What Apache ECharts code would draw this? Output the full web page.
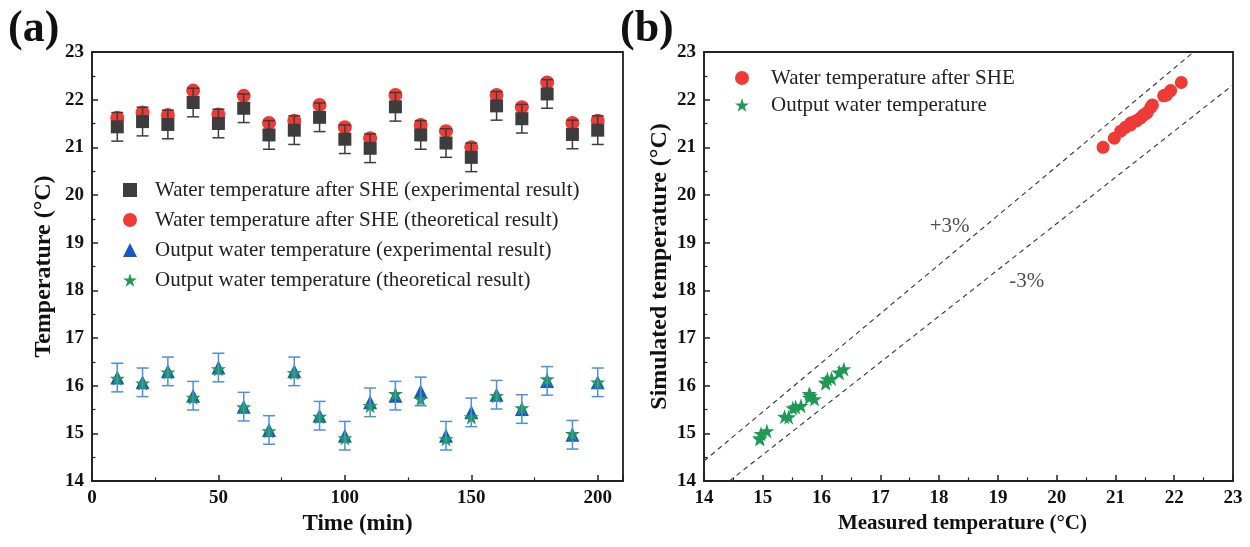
<!DOCTYPE html>
<html>
<head>
<meta charset="utf-8">
<script src="https://cdn.jsdelivr.net/npm/echarts@6/dist/echarts.min.js"></script>
<style>html,body{margin:0;padding:0;background:#fff}#c{width:1250px;height:547px}</style>
</head>
<body>
<div id="c"></div>
<script>
// ---- data ----
const times = [10,20,30,40,50,60,70,80,90,100,110,120,130,140,150,160,170,180,190,200];
const sheExp  = [21.43,21.54,21.48,21.94,21.50,21.82,21.26,21.36,21.63,21.17,20.98,21.85,21.26,21.09,20.79,21.87,21.60,22.12,21.27,21.36];
const sheTheo = [21.62,21.73,21.68,22.19,21.69,22.08,21.51,21.56,21.89,21.42,21.19,22.10,21.47,21.34,21.00,22.10,21.84,22.36,21.51,21.56];
const outExp  = [16.17,16.07,16.30,15.79,16.38,15.56,15.07,16.30,15.37,14.95,15.65,15.79,15.88,14.95,15.44,15.81,15.51,16.10,14.97,16.07];
const outTheo = [16.15,16.05,16.28,15.75,16.35,15.55,15.05,16.27,15.35,14.90,15.58,15.83,15.72,14.88,15.34,15.79,15.53,16.14,14.99,16.07];
const sheErr = 0.3;
const outErr = 0.3;
const refRatios = [1.03, 0.97];
const refLabels = ['+3%', '-3%'];
const refLabelPos = [[18.18, 19.34], [19.49, 18.19]];

const names = {
  a1: 'Water temperature after SHE (experimental result)',
  a2: 'Water temperature after SHE (theoretical result)',
  a3: 'Output water temperature (experimental result)',
  a4: 'Output water temperature (theoretical result)',
  b1: 'Water temperature after SHE',
  b2: 'Output water temperature'
};

const FONT = '"Liberation Serif", "DejaVu Serif", serif';
const STAR = 'path://M50,0 L61.2,34.5 L97.6,34.5 L68.2,55.9 L79.4,90.5 L50,69.1 L20.6,90.5 L31.8,55.9 L2.4,34.5 L38.8,34.5 Z';
const cRed = '#f03a35', cGray = '#3d3d3d', cBlue = '#1659c4', cGreen = '#1e9a55', cErrBlue = '#4e8fda';
const AX = 14, AXMAX = 23;

function pairs(xs, ys){ return xs.map((x,i)=>[x, ys[i]]); }
function errData(xs, ys, e){ return xs.map((x,i)=>[x, ys[i]-e, ys[i]+e]); }
function errorSeries(data, color, z){
  return {
    type: 'custom', xAxisIndex: 0, yAxisIndex: 0, z: z, silent: true,
    data: data,
    renderItem: function(params, api){
      const x = api.value(0), lo = api.value(1), hi = api.value(2);
      const p1 = api.coord([x, lo]), p2 = api.coord([x, hi]);
      const hw = 6;
      const st = {stroke: color, lineWidth: 1.5, fill: null};
      return {type: 'group', children: [
        {type:'line', shape:{x1:p1[0],y1:p1[1],x2:p2[0],y2:p2[1]}, style:st},
        {type:'line', shape:{x1:p1[0]-hw,y1:p1[1],x2:p1[0]+hw,y2:p1[1]}, style:st},
        {type:'line', shape:{x1:p2[0]-hw,y1:p2[1],x2:p2[0]+hw,y2:p2[1]}, style:st}
      ]};
    }
  };
}
// reference lines y = r*x clipped to axis box
function refLine(r){
  const x0 = Math.max(AX, AX / r), x1 = Math.min(AXMAX, AXMAX / r);
  return [[x0, r*x0], [x1, r*x1]];
}

const axisLabelStyle = {fontFamily: FONT, fontWeight: 'bold', fontSize: 19, color: '#111'};
function nameStyle(sz){ return {fontFamily: FONT, fontWeight: 'bold', fontSize: sz, color: '#111'}; }
function valAxis(extra){
  return Object.assign({
    type: 'value',
    axisLine: {show: true, onZero: false, lineStyle: {color: '#222', width: 1.5}},
    axisTick: {show: true, inside: true, length: 6, lineStyle: {color: '#222', width: 1.5}},
    minorTick: {show: true, splitNumber: 2, length: 3.5, lineStyle: {color: '#222', width: 1.2}},
    splitLine: {show: false},
    axisLabel: Object.assign({margin: 8}, axisLabelStyle),
    nameLocation: 'middle',
    nameTextStyle: nameStyle(22)
  }, extra);
}

const chart = echarts.init(document.getElementById('c'), null, {renderer: 'canvas'});
chart.setOption({
  animation: false,
  backgroundColor: '#fff',
  textStyle: {fontFamily: FONT},
  grid: [
    {left: 92, top: 52, width: 531, height: 429, show: true, borderColor: '#222', borderWidth: 1.8, containLabel: false},
    {left: 704, top: 52, width: 529, height: 429, show: true, borderColor: '#222', borderWidth: 1.8, containLabel: false}
  ],
  xAxis: [
    valAxis({gridIndex: 0, min: 0, max: 210, interval: 50, name: 'Time (min)', nameGap: 30, nameTextStyle: nameStyle(23),
      axisLabel: Object.assign({margin: 8, showMaxLabel: false, formatter: v => (v % 50 === 0 ? String(v) : '')}, axisLabelStyle)}),
    valAxis({gridIndex: 1, min: AX, max: AXMAX, interval: 1, name: 'Measured temperature (\u00b0C)', nameGap: 30,
      nameTextStyle: Object.assign(nameStyle(21), {padding: [0, 12, 0, 0]})})
  ],
  yAxis: [
    valAxis({gridIndex: 0, min: AX, max: AXMAX, interval: 1, name: 'Temperature (\u00b0C)', nameGap: 36, nameTextStyle: nameStyle(24)}),
    valAxis({gridIndex: 1, min: AX, max: AXMAX, interval: 1, name: 'Simulated temperature (\u00b0C)', nameGap: 32, nameTextStyle: nameStyle(24)})
  ],
  legend: [
    {
      orient: 'vertical', left: 118, top: 174, itemWidth: 14, itemHeight: 14, itemGap: 8,
      selectedMode: false,
      textStyle: {fontFamily: FONT, fontSize: 21, color: '#222', lineHeight: 22, padding: [0,0,0,13]},
      data: [names.a1, names.a2, names.a3, names.a4]
    },
    {
      orient: 'vertical', left: 730, top: 62, itemWidth: 14, itemHeight: 14, itemGap: 5,
      selectedMode: false,
      textStyle: {fontFamily: FONT, fontSize: 21, color: '#222', lineHeight: 22, padding: [0,0,0,17]},
      data: [names.b1, names.b2]
    }
  ],
  graphic: [
    {type: 'text', left: 8, top: 8, style: {text: '(a)', font: 'bold 44px ' + FONT, fill: '#111'}},
    {type: 'text', left: 620, top: 8, style: {text: '(b)', font: 'bold 44px ' + FONT, fill: '#111'}}
  ],
  series: [
    // panel (a)
    {name: names.a2, type: 'scatter', xAxisIndex: 0, yAxisIndex: 0, symbol: 'circle', symbolSize: 14,
      itemStyle: {color: cRed, opacity: 1}, data: pairs(times, sheTheo), z: 2},
    {name: names.a1, type: 'scatter', xAxisIndex: 0, yAxisIndex: 0, symbol: 'rect', symbolSize: 13,
      itemStyle: {color: cGray, opacity: 1}, data: pairs(times, sheExp), z: 3},
    errorSeries(errData(times, sheExp, sheErr), cGray, 4),
    {name: names.a3, type: 'scatter', xAxisIndex: 0, yAxisIndex: 0, symbol: 'triangle', symbolSize: 14,
      itemStyle: {color: cBlue, opacity: 1}, data: pairs(times, outExp), z: 2},
    {name: names.a4, type: 'scatter', xAxisIndex: 0, yAxisIndex: 0, symbol: STAR, symbolSize: 15,
      itemStyle: {color: cGreen, opacity: 1}, data: pairs(times, outTheo), z: 3},
    errorSeries(errData(times, outExp, outErr), cErrBlue, 4),
    // panel (b)
    {type: 'line', xAxisIndex: 1, yAxisIndex: 1, data: refLine(refRatios[0]), symbol: 'none', silent: true,
      lineStyle: {color: '#333', width: 1.1, type: [5, 4]}, z: 1},
    {type: 'line', xAxisIndex: 1, yAxisIndex: 1, data: refLine(refRatios[1]), symbol: 'none', silent: true,
      lineStyle: {color: '#333', width: 1.1, type: [5, 4]}, z: 1},
    {type: 'scatter', xAxisIndex: 1, yAxisIndex: 1, symbolSize: 0, silent: true,
      data: refLabelPos.map((p,i)=>({value: p, label: {show: true, formatter: refLabels[i]}})),
      label: {show: true, position: 'inside', fontFamily: FONT, fontSize: 21, color: '#222'}},
    {name: names.b1, type: 'scatter', xAxisIndex: 1, yAxisIndex: 1, symbol: 'circle', symbolSize: 13,
      itemStyle: {color: cRed, opacity: 1}, data: pairs(sheExp, sheTheo), z: 3},
    {name: names.b2, type: 'scatter', xAxisIndex: 1, yAxisIndex: 1, symbol: STAR, symbolSize: 15,
      itemStyle: {color: cGreen, opacity: 1}, data: pairs(outExp, outTheo), z: 3}
  ]
});
</script>
</body>
</html>
